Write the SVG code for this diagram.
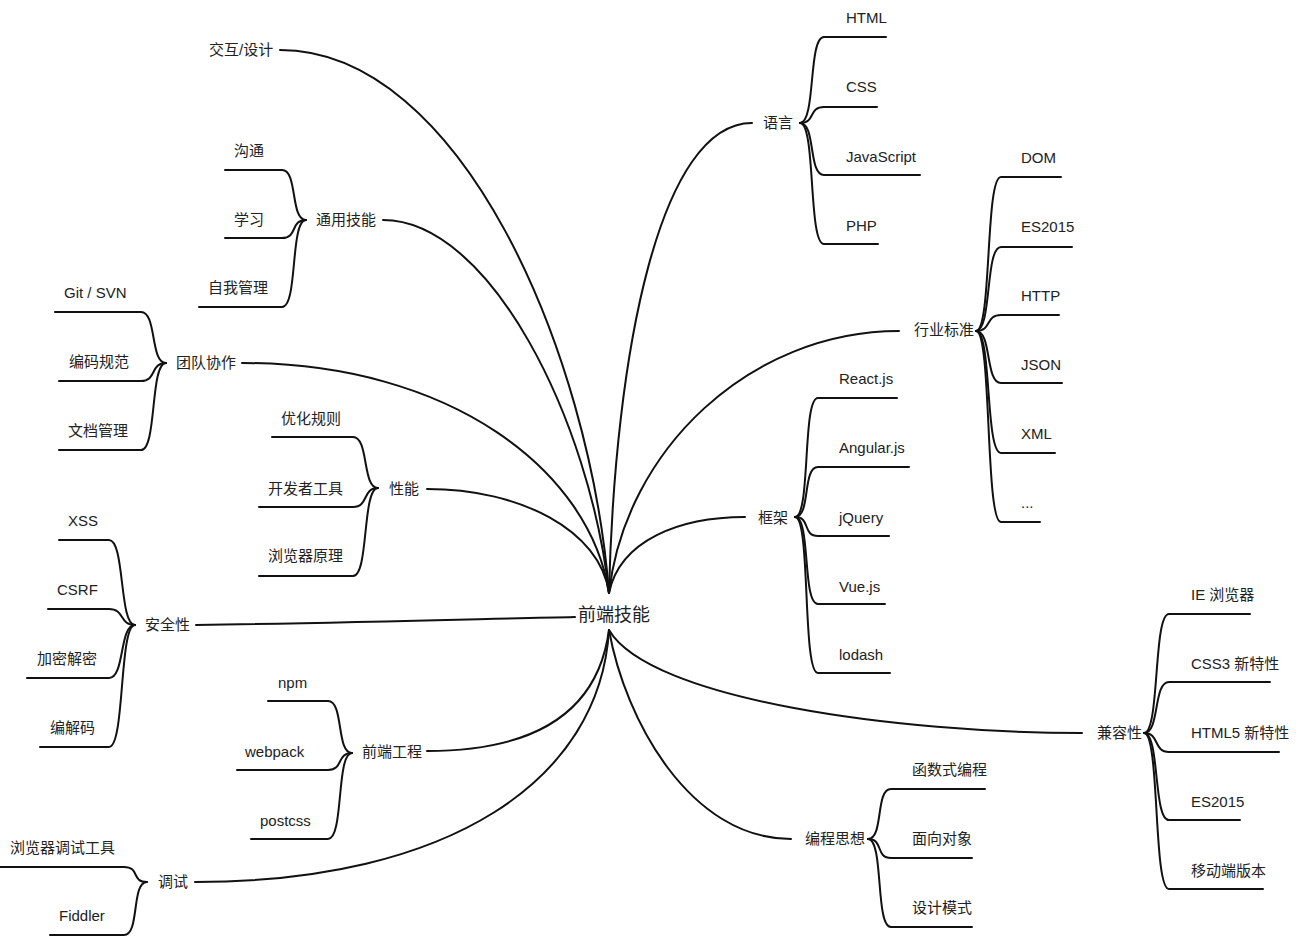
<svg xmlns="http://www.w3.org/2000/svg" width="1304" height="945" viewBox="0 0 1304 945">
<style>
text{font-family:"Liberation Sans","Noto Sans CJK SC",sans-serif;font-size:15px;fill:#222}
.c{font-size:18px}
path{fill:none;stroke:#111;stroke-width:2;stroke-linecap:round}
</style>
<rect width="1304" height="945" fill="#fff"/>
<g id="connectors">
<path d="M280,50 C460,50 590,350 609,593"/>
<path d="M383,220 C490,220 590,420 609,593"/>
<path d="M242,363 C450,363 590,470 609,593"/>
<path d="M427,489 C520,489 600,530 609,593"/>
<path d="M196,625 C350,623 480,619 575,617"/>
<path d="M427,751 C525,751 597,720 609,630"/>
<path d="M195,882 C450,882 600,780 609,630"/>
<path d="M752,123 C660,123 615,350 609,593"/>
<path d="M899,331 C750,331 625,450 609,593"/>
<path d="M745,517 C680,517 620,540 609,593"/>
<path d="M609,630 C650,700 900,733 1082,733"/>
<path d="M609,630 C625,720 690,839 791,839"/>
</g>
<g id="center"><text class="c" x="578" y="621">前端技能</text></g>
<g id="n-jiaohu"><text x="209" y="55">交互/设计</text></g>
<g id="n-tongyong">
<text x="316" y="225">通用技能</text>
<text x="234" y="156">沟通</text><path d="M225,170 H282 C298,170 290,220 306,220"/>
<text x="234" y="225">学习</text><path d="M225,238 H282 C298,238 290,220 306,220"/>
<text x="208" y="293">自我管理</text><path d="M199,307 H282 C298,307 290,220 306,220"/>
</g>
<g id="n-tuandui">
<text x="176" y="368">团队协作</text>
<text x="64" y="298">Git / SVN</text><path d="M55,312 H141 C157,312 150,363 166,363"/>
<text x="69" y="367">编码规范</text><path d="M59,381 H141 C157,381 150,363 166,363"/>
<text x="68" y="436">文档管理</text><path d="M59,450 H141 C157,450 150,363 166,363"/>
</g>
<g id="n-xingneng">
<text x="389" y="494">性能</text>
<text x="281" y="424">优化规则</text><path d="M272,437 H353 C369,437 362,488 378,488"/>
<text x="268" y="494">开发者工具</text><path d="M259,507 H353 C369,507 362,488 378,488"/>
<text x="268" y="561">浏览器原理</text><path d="M259,576 H353 C369,576 362,488 378,488"/>
</g>
<g id="n-anquan">
<text x="145" y="630">安全性</text>
<text x="68" y="526">XSS</text><path d="M59,540 H109 C125,540 119,625 135,625"/>
<text x="57" y="595">CSRF</text><path d="M48,609 H109 C125,609 119,625 135,625"/>
<text x="37" y="664">加密解密</text><path d="M27,678 H109 C125,678 119,625 135,625"/>
<text x="50" y="733">编解码</text><path d="M40,747 H109 C125,747 119,625 135,625"/>
</g>
<g id="n-gongcheng">
<text x="362" y="757">前端工程</text>
<text x="278" y="688">npm</text><path d="M268,701 H328 C344,701 336,753 352,753"/>
<text x="245" y="757">webpack</text><path d="M237,770 H328 C344,770 336,753 352,753"/>
<text x="260" y="826">postcss</text><path d="M251,839 H328 C344,839 336,753 352,753"/>
</g>
<g id="n-tiaoshi">
<text x="158" y="887">调试</text>
<text x="10" y="853">浏览器调试工具</text><path d="M0,867 H124 C140,867 131,882 147,882"/>
<text x="59" y="921">Fiddler</text><path d="M50,935 H124 C140,935 131,882 147,882"/>
</g>
<g id="n-yuyan">
<text x="763" y="128">语言</text>
<text x="846" y="23">HTML</text><path d="M800,123 C816,123 808,37 824,37 H886"/>
<text x="846" y="92">CSS</text><path d="M800,123 C816,123 808,107 824,107 H877"/>
<text x="846" y="162">JavaScript</text><path d="M800,123 C816,123 808,175 824,175 H920"/>
<text x="846" y="231">PHP</text><path d="M800,123 C816,123 808,244 824,244 H878"/>
</g>
<g id="n-biaozhun">
<text x="914" y="335">行业标准</text>
<text x="1021" y="163">DOM</text><path d="M976,331 C992,331 985,177 1001,177 H1061"/>
<text x="1021" y="232">ES2015</text><path d="M976,331 C992,331 985,247 1001,247 H1072"/>
<text x="1021" y="301">HTTP</text><path d="M976,331 C992,331 985,315 1001,315 H1059"/>
<text x="1021" y="370">JSON</text><path d="M976,331 C992,331 985,383 1001,383 H1062"/>
<text x="1021" y="439">XML</text><path d="M976,331 C992,331 985,453 1001,453 H1055"/>
<text x="1021" y="508">...</text><path d="M976,331 C992,331 985,522 1001,522 H1040"/>
</g>
<g id="n-kuangjia">
<text x="758" y="523">框架</text>
<text x="839" y="384">React.js</text><path d="M795,517 C811,517 802,398 818,398 H897"/>
<text x="839" y="453">Angular.js</text><path d="M795,517 C811,517 802,467 818,467 H909"/>
<text x="839" y="523">jQuery</text><path d="M795,517 C811,517 802,536 818,536 H889"/>
<text x="839" y="592">Vue.js</text><path d="M795,517 C811,517 802,604 818,604 H885"/>
<text x="839" y="660">lodash</text><path d="M795,517 C811,517 802,673 818,673 H890"/>
</g>
<g id="n-jianrong">
<text x="1097" y="738">兼容性</text>
<text x="1191" y="600">IE 浏览器</text><path d="M1144,733 C1160,733 1153,614 1169,614 H1250"/>
<text x="1191" y="669">CSS3 新特性</text><path d="M1144,733 C1160,733 1153,682 1169,682 H1270"/>
<text x="1191" y="738">HTML5 新特性</text><path d="M1144,733 C1160,733 1153,752 1169,752 H1279"/>
<text x="1191" y="807">ES2015</text><path d="M1144,733 C1160,733 1153,820 1169,820 H1240"/>
<text x="1191" y="876">移动端版本</text><path d="M1144,733 C1160,733 1153,889 1169,889 H1263"/>
</g>
<g id="n-biancheng">
<text x="805" y="844">编程思想</text>
<text x="912" y="775">函数式编程</text><path d="M868,839 C884,839 875,789 891,789 H985"/>
<text x="912" y="844">面向对象</text><path d="M868,839 C884,839 875,858 891,858 H972"/>
<text x="912" y="913">设计模式</text><path d="M868,839 C884,839 875,927 891,927 H972"/>
</g>
</svg>
